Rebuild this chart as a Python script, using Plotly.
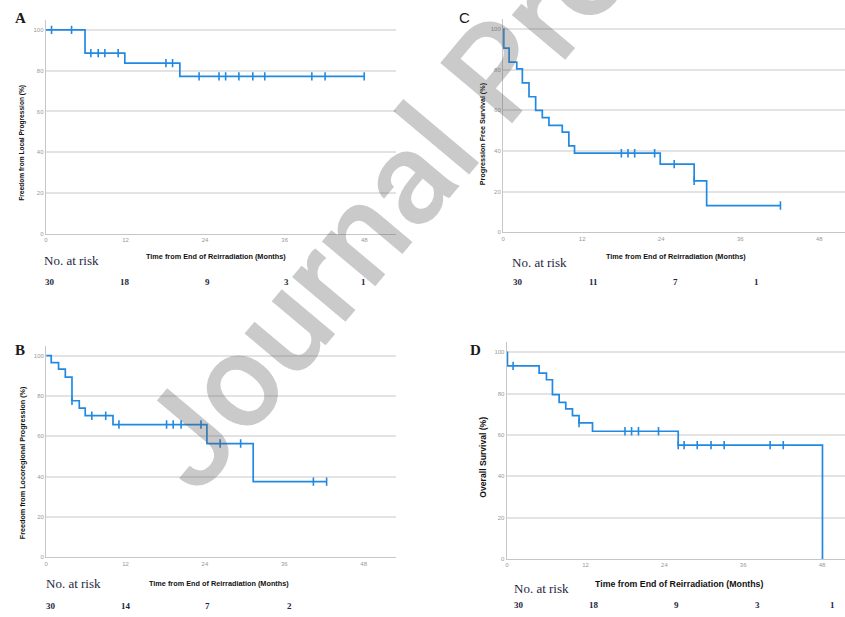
import numpy as np
import plotly.graph_objects as go

W, H = 845, 617

# ---------------- data ----------------
tick_months = [0, 12, 24, 36, 48]
tick_pct = [0, 20, 40, 60, 80, 100]

# A: Freedom from local progression
a_times = [0, 5.9, 11.9, 20.2]
a_surv = [100, 88.6, 83.7, 77.2]
a_censor = [0.85, 3.87, 6.78, 7.89, 8.89, 10.9, 18.1, 19.1, 23.1, 26.1, 27.1,
            29.1, 31.2, 33.0, 40.1, 42.1, 48.0]
a_end = 48.0
a_risk = [30, 18, 9, 3, 1]

# B: Freedom from locoregional progression
b_times = [0, 0.76, 1.87, 2.89, 3.9, 5.0, 5.9, 10.1, 24.3, 31.3]
b_surv = [100, 96.5, 93.3, 89.3, 77.6, 74.0, 70.2, 65.8, 56.4, 37.5]
b_censor = [3.9, 6.9, 9.0, 11.0, 18.2, 19.2, 20.4, 23.4, 26.3, 29.4, 40.4, 42.4]
b_end = 42.4
b_risk = [30, 14, 7, 2]

# C: Progression free survival
c_times = [0, 0.1, 0.91, 2.07, 2.92, 3.93, 4.94, 5.95, 6.96, 8.98, 9.98, 10.84,
           23.85, 29.0, 30.9]
c_surv = [100, 90.7, 83.8, 80.4, 73.5, 66.7, 60.0, 56.4, 52.6, 49.3, 42.5, 38.9,
          33.5, 25.3, 13.1]
c_censor = [17.95, 18.96, 19.97, 23.0, 25.97, 29.0, 42.1]
c_end = 42.1
c_risk = [30, 11, 7, 1]

# D: Overall survival
d_times = [0, 0.1, 4.92, 6.04, 6.95, 7.97, 8.98, 10.0, 11.0, 13.05, 26.1, 48.07]
d_surv = [100, 93.4, 89.9, 86.7, 79.5, 75.8, 72.6, 69.3, 65.8, 61.8, 55.1, 0]
d_censor = [0.96, 11.0, 18.0, 19.0, 20.05, 23.1, 26.1, 27.0, 29.0, 31.1, 33.1,
            40.1, 42.1]
d_end = 48.07
d_risk = [30, 18, 9, 3, 1]

x_title = "Time from End of Reirradiation (Months)"

# ---------------- styling / layout ----------------
BLUE = "#2289e3"
SANS = "Liberation Sans, Arial, sans-serif"
SERIF = "Liberation Serif, Times New Roman, serif"

def px_x(x):
    return x / W

def px_y(y):
    return 1 - y / H

panels = [
    dict(key="A", times=a_times, surv=a_surv, cens=a_censor, end=a_end, risk=a_risk,
         xdom=[44 / W, 395 / W], xr=[0, 52.8], ydom=[px_y(235), px_y(19.75)],
         ytitle="Freedom from Local Progression (%)", ytpos=(20.5, 143), ytsize=6.6,
         xtpos=(215, 258), xtsize=7.3, letter=(18.5, 18), letter_font=SERIF, letter_bold=True,
         risk_label=(70, 262), risk_y=283.5, risk_shift=[4, 0, 2, 2, -1]),
    dict(key="B", times=b_times, surv=b_surv, cens=b_censor, end=b_end, risk=b_risk,
         xdom=[44.3 / W, 395 / W], xr=[0, 52.9], ydom=[px_y(560), px_y(347.2)],
         ytitle="Freedom from Locoregional Progression (%)", ytpos=(20.5, 465), ytsize=7.2,
         xtpos=(218, 586), xtsize=7.3, letter=(18, 352), letter_font=SERIF, letter_bold=True,
         risk_label=(72, 586), risk_y=608.5, risk_shift=[5, 0, 3, 5]),
    dict(key="C", times=c_times, surv=c_surv, cens=c_censor, end=c_end, risk=c_risk,
         xdom=[502.3 / W, 1.0], xr=[0, 51.9], ydom=[px_y(233.3), px_y(19.1)],
         ytitle="Progression Free Survival (%)", ytpos=(481, 134), ytsize=7.2,
         xtpos=(676, 258), xtsize=7.3, letter=(464, 18), letter_font=SANS, letter_bold=False,
         risk_label=(539, 264), risk_y=283.5, risk_shift=[15, 11, 14, 16]),
    dict(key="D", times=d_times, surv=d_surv, cens=d_censor, end=d_end, risk=d_risk,
         xdom=[506 / W, 1.0], xr=[0, 51.5], ydom=[px_y(561.7), px_y(343.6)],
         ytitle="Overall Survival (%)", ytpos=(482, 459), ytsize=8.6,
         xtpos=(679, 587), xtsize=8.8, letter=(475, 352), letter_font=SERIF, letter_bold=True,
         risk_label=(541, 591), risk_y=607.5, risk_shift=[12, 8, 12, 14, 10]),
]

fig = go.Figure()
layout = dict(
    width=W, height=H, margin=dict(l=0, r=0, t=0, b=0),
    paper_bgcolor="white", plot_bgcolor="white", showlegend=False,
)
annotations = []

for i, p in enumerate(panels, start=1):
    xa = "x" if i == 1 else f"x{i}"
    ya = "y" if i == 1 else f"y{i}"
    t = list(p["times"])
    s = list(p["surv"])
    xs = t + [p["end"]]
    ys = s + [s[-1]]
    fig.add_trace(go.Scatter(x=xs, y=ys, mode="lines", line=dict(color=BLUE, width=1.7, shape="hv"),
                             xaxis=xa, yaxis=ya, hoverinfo="skip"))
    cens = np.array(p["cens"])
    idx = np.searchsorted(np.array(t), cens, side="right") - 1
    cy = np.array(s)[idx]
    fig.add_trace(go.Scatter(x=cens, y=cy, mode="markers",
                             marker=dict(symbol="line-ns-open", size=6, color=BLUE,
                                         line=dict(color=BLUE, width=1.6)),
                             xaxis=xa, yaxis=ya, hoverinfo="skip"))

    axis_common = dict(showline=True, linecolor="#c6c6c6", linewidth=1.3, ticks="",
                       tickfont=dict(family=SANS, size=6, color="#999999"), zeroline=False)
    layout["xaxis" if i == 1 else f"xaxis{i}"] = dict(
        domain=p["xdom"], range=p["xr"], tickvals=tick_months, showgrid=False,
        anchor=ya, **axis_common)
    layout["yaxis" if i == 1 else f"yaxis{i}"] = dict(
        domain=p["ydom"], range=[0, 105], tickvals=tick_pct, showgrid=True,
        gridcolor="#e3e3e3", gridwidth=1.5, anchor=xa, **axis_common)

    # panel letter
    ltxt = f"<b>{p['key']}</b>" if p["letter_bold"] else p["key"]
    annotations.append(dict(text=ltxt, x=px_x(p["letter"][0]), y=px_y(p["letter"][1]),
                            xref="paper", yref="paper", showarrow=False,
                            xanchor="center", yanchor="middle",
                            font=dict(family=p["letter_font"], size=15, color="#1a1a1a")))
    # y title
    annotations.append(dict(text=f"<b>{p['ytitle']}</b>", x=px_x(p["ytpos"][0]), y=px_y(p["ytpos"][1]),
                            xref="paper", yref="paper", showarrow=False, textangle=-90,
                            xanchor="center", yanchor="middle",
                            font=dict(family=SANS, size=p["ytsize"], color="#111111")))
    # x title
    annotations.append(dict(text=f"<b>{x_title}</b>", x=px_x(p["xtpos"][0]), y=px_y(p["xtpos"][1]),
                            xref="paper", yref="paper", showarrow=False,
                            xanchor="center", yanchor="middle",
                            font=dict(family=SANS, size=p["xtsize"], color="#111111")))
    # No. at risk
    annotations.append(dict(text="No. at risk", x=px_x(p["risk_label"][0]), y=px_y(p["risk_label"][1]),
                            xref="paper", yref="paper", showarrow=False,
                            xanchor="center", yanchor="middle",
                            font=dict(family=SERIF, size=13, color="#262640")))
    for k, n in enumerate(p["risk"]):
        annotations.append(dict(text=f"<b>{n}</b>", x=tick_months[k], xref=xa,
                                y=px_y(p["risk_y"]), yref="paper", xshift=p["risk_shift"][k],
                                showarrow=False, xanchor="center", yanchor="middle",
                                font=dict(family=SERIF, size=9, color="#262640")))

# watermark
annotations.append(dict(text="Journal Pre-proof", x=px_x(497), y=px_y(70), xref="paper", yref="paper",
                        showarrow=False, textangle=-50, xanchor="center", yanchor="middle",
                        font=dict(family="Roboto, Liberation Sans, Arial, sans-serif", size=132,
                                  weight=500, color="rgba(90,90,90,0.32)")))

layout["annotations"] = annotations
fig.update_layout(**layout)
fig.write_html("out.html", config={"displayModeBar": False},
               post_script="document.body.style.margin='0';document.body.style.overflow='hidden';")
